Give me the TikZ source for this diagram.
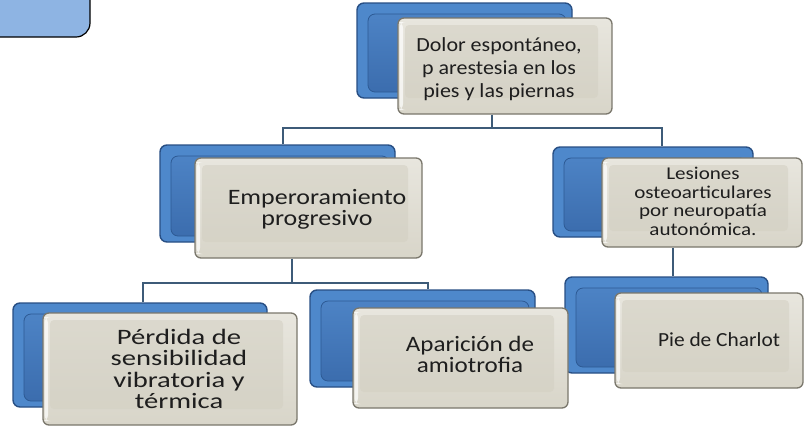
\documentclass[tikz,border=0pt]{standalone}
\usepackage{fontspec}
\setmainfont{Carlito}
\usepackage{graphicx}
\definecolor{bbord}{HTML}{284F84}
\definecolor{bbout}{HTML}{4E88CB}
\definecolor{bbinA}{HTML}{4F86C8}
\definecolor{bbinB}{HTML}{3A6BAC}
\definecolor{bbline}{HTML}{2D5A94}
\definecolor{fbord}{HTML}{7A776C}
\definecolor{fbA}{HTML}{E8E6DE}
\definecolor{fbB}{HTML}{D8D5C9}
\definecolor{fbin}{HTML}{D2CFC2}
\definecolor{tcol}{HTML}{1E1E1E}
\definecolor{ccol}{HTML}{3D5B78}
\definecolor{cornerblue}{HTML}{8EB4E3}
\newcommand\tb[4]{\scalebox{#1}[1]{\fontsize{#2}{#3}\selectfont\begin{tabular}{@{}c@{}}#4\end{tabular}}}
\tikzset{
 backbox/.style={rectangle, rounded corners=7pt, draw=bbord, line width=1.4pt, fill=bbout, inner sep=0pt,
   path picture={\filldraw[draw=bbline, line width=0.8pt, top color=bbinA, bottom color=bbinB] ([shift={(11pt,-11pt)}]path picture bounding box.north west) rectangle ([shift={(-6pt,6pt)}]path picture bounding box.south east);}},
 frontbox/.style={rectangle, rounded corners=6pt, draw=fbord, line width=1.3pt, top color=fbA, bottom color=fbB, inner sep=0pt,
   path picture={\fill[fbin, opacity=.55, rounded corners=4pt] ([shift={(7pt,-7pt)}]path picture bounding box.north west) rectangle ([shift={(-14pt,16pt)}]path picture bounding box.south east);
     \fill[white, opacity=.7] ([shift={(1.5pt,-4pt)}]path picture bounding box.north west) rectangle ([shift={(5pt,4pt)}]path picture bounding box.south west);}},
 txt/.style={text=tcol, inner sep=0pt},
 conn/.style={draw=ccol, line width=2pt}
}
\begin{document}
\begin{tikzpicture}[x=1pt,y=-1pt]
\useasboundingbox (0,0) rectangle (805,432);
\clip (0,0) rectangle (805,432);
% corner shape
\draw[fill=cornerblue, draw=black, line width=1.2pt, rounded corners=14pt] (-20,-20) rectangle (90,37);
% junction coordinates
\coordinate (jt) at (492,128);
\coordinate (jl) at (283,128);
\coordinate (jr) at (662,128);
\coordinate (je) at (292,283);
\coordinate (jpl) at (143,283);
\coordinate (jpr) at (428,283);
\coordinate (jc) at (673,0);
% back boxes
\node[backbox, minimum width=215pt, minimum height=95pt] (topB) at (464.5,50.5) {};
\node[backbox, minimum width=235pt, minimum height=97pt] (empB) at (277.5,193.5) {};
\node[backbox, minimum width=200pt, minimum height=90pt] (lesB) at (653,192) {};
\node[backbox, minimum width=254pt, minimum height=104pt] (perB) at (140,355) {};
\node[backbox, minimum width=225pt, minimum height=97pt] (apaB) at (422.5,338.5) {};
\node[backbox, minimum width=203pt, minimum height=96pt] (pieB) at (666.5,325) {};
% front boxes
\node[frontbox, minimum width=214pt, minimum height=96pt] (topF) at (505,66) {};
\node[frontbox, minimum width=227pt, minimum height=100pt] (empF) at (308.5,208) {};
\node[frontbox, minimum width=200pt, minimum height=89pt] (lesF) at (702,202.5) {};
\node[frontbox, minimum width=254pt, minimum height=112pt] (perF) at (170,369) {};
\node[frontbox, minimum width=215pt, minimum height=100pt] (apaF) at (460.5,358) {};
\node[frontbox, minimum width=188pt, minimum height=95pt] (pieF) at (709,340.5) {};
% connectors
\draw[conn] (topF.south -| jt) -- (jt);
\draw[conn] (empB.north -| jl) -- (jl) -- (jr) -- (lesB.north -| jr);
\draw[conn] (empF.south -| je) -- (je);
\draw[conn] (perB.north -| jpl) -- (jpl) -- (jpr) -- (apaB.north -| jpr);
\draw[conn] (lesF.south -| jc) -- (pieB.north -| jc);
% texts
\node[txt] (topT) at (499,70) {\tb{1.1}{20}{23}{Dolor espontáneo,\\p arestesia en los\\pies y las piernas}};
\node[txt] (empT) at (317,210) {\tb{1.18}{22}{19}{Emperoramiento\\progresivo}};
\node[txt] (lesT) at (703,204) {\tb{1.17}{18}{18.5}{Lesiones\\osteoarticulares\\por neuropatía\\autonómica.}};
\node[txt] (perT) at (179,372) {\tb{1.3}{22}{21}{Pérdida de\\sensibilidad\\vibratoria y\\térmica}};
\node[txt] (apaT) at (470,357) {\tb{1.14}{22}{19}{Aparición de\\amiotrofia}};
\node[txt] (pieT) at (719,342) {\tb{1.07}{20}{20}{Pie de Charlot}};
\end{tikzpicture}
\end{document}
